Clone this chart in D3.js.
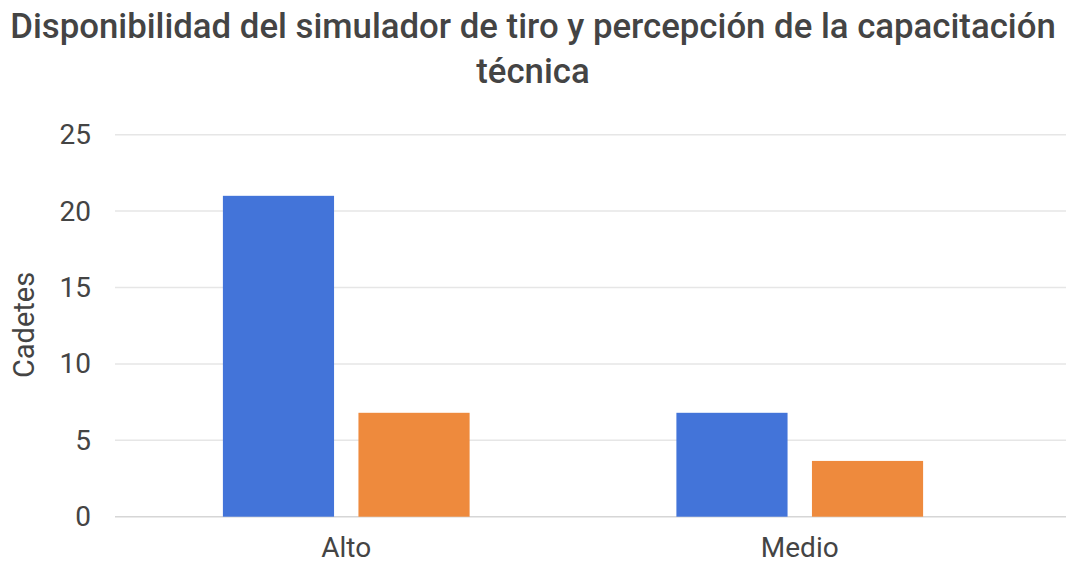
<!DOCTYPE html>
<html>
<head>
<meta charset="utf-8">
<script src="https://cdn.jsdelivr.net/npm/d3@7"></script>
<style>
  html, body { margin: 0; padding: 0; background: #ffffff; }
  svg { display: block; }
  text { font-family: Roboto, "Noto Sans", sans-serif; }
</style>
</head>
<body>
<svg id="chart" width="1069" height="568"></svg>
<script>
const categories = ["Alto", "Medio"];
const seriesNames = ["Serie A", "Serie B"];
const seriesA = [21, 6.8];
const seriesB = [6.8, 3.65];
const yTicks = [0, 5, 10, 15, 20, 25];
const titleLines = ["Disponibilidad del simulador de tiro y percepción de la capacitación", "técnica"];
const yLabel = "Cadetes";
const colors = ["#4374d9", "#ee8a3d"];

const data = categories.map((c, i) => ({ cat: c, values: [seriesA[i], seriesB[i]] }));

const svg = d3.select("#chart");

const y = d3.scaleLinear().domain([0, 25]).range([516.7, 134.7]);
const x0 = d3.scaleBand().domain(categories).range([119.5, 1026.5]).paddingInner(0.456).paddingOuter(0.228);
const x1 = d3.scaleBand().domain(seriesNames).range([0, x0.bandwidth()]).paddingInner(0.18).paddingOuter(0);

// title
const title = svg.append("g").selectAll("text").data(titleLines).join("text")
  .attr("x", 533)
  .attr("y", (d, i) => 38 + i * 45)
  .attr("text-anchor", "middle")
  .attr("font-size", 34)
  .attr("font-weight", 500)
  .attr("fill", "#444444")
  .text(d => d);
const t0 = title.filter((d, i) => i === 0).node();
if (t0 && t0.getComputedTextLength() > 0) {
  const len = t0.getComputedTextLength();
  const target = 1046;
  if (Math.abs(len - target) > 6) {
    title.attr("font-size", 34 * target / len);
  }
}

// gridlines
svg.append("g").selectAll("line").data(yTicks).join("line")
  .attr("x1", 115).attr("x2", 1066)
  .attr("y1", d => y(d)).attr("y2", d => y(d))
  .attr("stroke", d => d === 0 ? "#d6d6d6" : "#e6e6e6")
  .attr("stroke-width", 1.5);

// y axis labels
const yAxis = d3.axisLeft(y).tickValues(yTicks).tickSize(0).tickPadding(0);
const gy = svg.append("g").attr("transform", "translate(91,0)").call(yAxis);
gy.select(".domain").remove();
gy.selectAll("text")
  .attr("font-size", 28)
  .attr("fill", "#444444")
  .attr("font-family", "Roboto, sans-serif");

// y label
svg.append("text")
  .attr("transform", "translate(34,325) rotate(-90)")
  .attr("text-anchor", "middle")
  .attr("font-size", 29)
  .attr("fill", "#444444")
  .text(yLabel);

// bars
const groups = svg.append("g").selectAll("g").data(data).join("g")
  .attr("transform", d => `translate(${x0(d.cat)},0)`);
groups.selectAll("rect").data(d => d.values.map((v, i) => ({ s: seriesNames[i], v, i })))
  .join("rect")
  .attr("x", d => x1(d.s))
  .attr("width", x1.bandwidth())
  .attr("y", d => y(d.v))
  .attr("height", d => y(0) - y(d.v))
  .attr("fill", d => colors[d.i]);

// x axis labels
const xAxis = d3.axisBottom(x0).tickSize(0).tickPadding(0);
const gx = svg.append("g").attr("transform", "translate(0,537)").call(xAxis);
gx.select(".domain").remove();
gx.selectAll("text")
  .attr("font-size", 28)
  .attr("fill", "#444444")
  .attr("font-family", "Roboto, sans-serif")
  .attr("dy", "0.71em");
</script>
</body>
</html>
